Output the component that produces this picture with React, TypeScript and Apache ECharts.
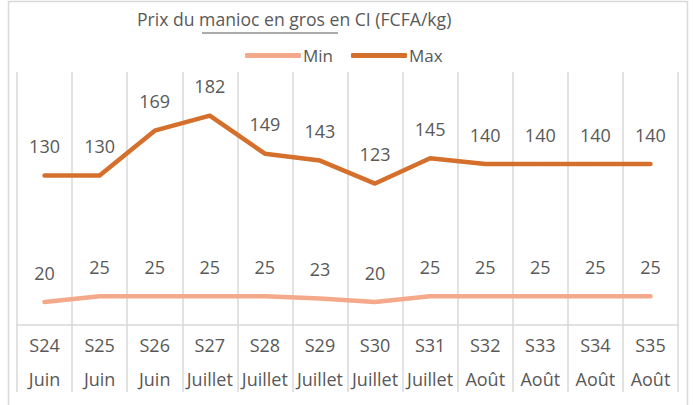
import React, { useEffect, useRef } from "react";
import * as echarts from "echarts";

const weeks = ["S24", "S25", "S26", "S27", "S28", "S29", "S30", "S31", "S32", "S33", "S34", "S35"];
const months = ["Juin", "Juin", "Juin", "Juillet", "Juillet", "Juillet", "Juillet", "Juillet", "Août", "Août", "Août", "Août"];
const minValues = [20, 25, 25, 25, 25, 23, 20, 25, 25, 25, 25, 25];
const maxValues = [130, 130, 169, 182, 149, 143, 123, 145, 140, 140, 140, 140];

const FONT = "'Open Sans', sans-serif";
const TXT = "#595959";
const GRID = "#d9d9d9";
const MIN_COLOR = "#F4A98A";
const MAX_COLOR = "#D4702C";

export default function App() {
  const ref = useRef<HTMLDivElement>(null);
  useEffect(() => {
    if (!ref.current) return;
    const chart = echarts.init(ref.current, undefined, { renderer: "svg" });
    const labelStyle = {
      show: true,
      position: "top" as const,
      distance: 20,
      color: TXT,
      fontFamily: FONT,
      fontSize: 18,
      lineHeight: 18,
    };
    chart.setOption({
      animation: false,
      backgroundColor: "#fff",
      textStyle: { fontFamily: FONT },
      graphic: [
        {
          type: "rect",
          shape: { x: 8.5, y: 1.5, width: 679, height: 420 },
          style: { fill: "none", stroke: GRID, lineWidth: 1.5 },
          silent: true,
        },
        {
          type: "text",
          left: 137,
          top: 10,
          style: {
            text: "Prix du manioc en gros en CI (FCFA/kg)",
            fill: TXT,
            font: `17.6px ${FONT}`,
          },
        },
        {
          type: "line",
          shape: { x1: 202, y1: 33, x2: 338, y2: 33 },
          style: { stroke: TXT, lineWidth: 1 },
        },
      ],
      legend: {
        left: 240,
        top: 42,
        icon: "roundRect",
        itemWidth: 56,
        itemHeight: 5,
        itemGap: 18,
        textStyle: { color: TXT, fontFamily: FONT, fontSize: 17, padding: [0, 0, 0, -3] },
        data: ["Min", "Max"],
      },
      grid: { left: 17, right: 15, top: 72, bottom: 80, containLabel: false },
      xAxis: {
        type: "category",
        data: weeks.map((w, i) => `${w}\n${months[i]}`),
        boundaryGap: true,
        axisLine: { show: true, lineStyle: { color: GRID, width: 1.5 } },
        axisTick: { show: true, length: 67, lineStyle: { color: GRID, width: 1.5 } },
        splitLine: { show: true, lineStyle: { color: GRID, width: 1.5 } },
        axisLabel: {
          color: TXT,
          fontFamily: FONT,
          fontSize: 18,
          lineHeight: 34,
          margin: 3,
          interval: 0,
        },
      },
      yAxis: {
        type: "value",
        min: 0,
        max: 220,
        show: false,
        splitLine: { show: false },
      },
      series: [
        {
          name: "Min",
          type: "line",
          data: minValues,
          symbol: "circle",
          symbolSize: 1,
          itemStyle: { color: MIN_COLOR },
          lineStyle: { color: MIN_COLOR, width: 4.5, cap: "round", join: "round" },
          label: labelStyle,
        },
        {
          name: "Max",
          type: "line",
          data: maxValues,
          symbol: "circle",
          symbolSize: 1,
          itemStyle: { color: MAX_COLOR },
          lineStyle: { color: MAX_COLOR, width: 4.5, cap: "round", join: "round" },
          label: labelStyle,
        },
      ],
    });
    return () => chart.dispose();
  }, []);
  return (
    <div
      ref={ref}
      style={{ position: "fixed", left: 0, top: 0, width: 693, height: 405 }}
    />
  );
}
